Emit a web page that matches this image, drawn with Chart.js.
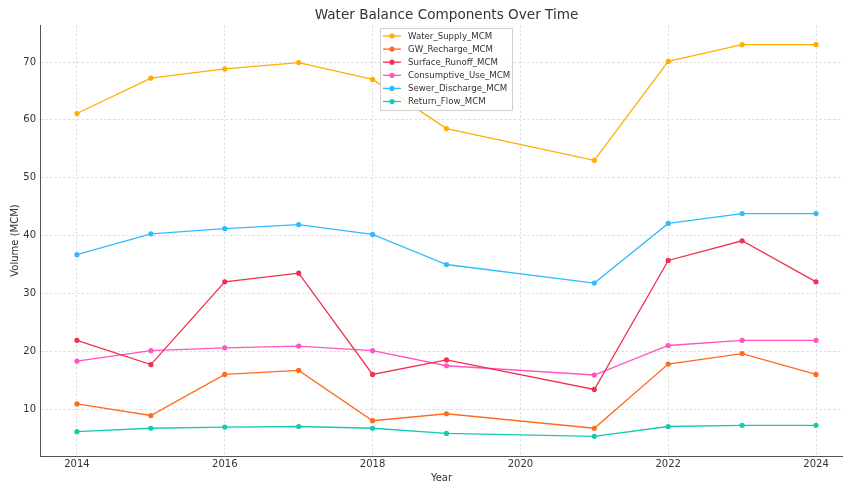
<!DOCTYPE html>
<html>
<head>
<meta charset="utf-8">
<title>Water Balance Components Over Time</title>
<script src="https://cdn.jsdelivr.net/npm/chart.js@4.4.0/dist/chart.umd.min.js"></script>
<style>
  html, body { margin: 0; padding: 0; background: #fff; }
  #wrap { width: 843px; height: 484px; position: relative; }
</style>
</head>
<body>
<div id="wrap"><canvas id="myChart" width="843" height="484"></canvas></div>
<script>
// years with data (2020 is missing in the record)
const years = [2014, 2015, 2016, 2017, 2018, 2019, 2021, 2022, 2023, 2024];

const waterSupply     = [61.1, 67.2, 68.8, 69.9, 67.0, 58.5, 53.0, 70.1, 73.0, 73.0];
const gwRecharge      = [10.9, 8.9, 16.0, 16.7, 8.0, 9.2, 6.7, 17.8, 19.6, 16.0];
const surfaceRunoff   = [21.9, 17.7, 32.0, 33.5, 16.0, 18.5, 13.4, 35.7, 39.1, 32.0];
const consumptiveUse  = [18.3, 20.1, 20.6, 20.9, 20.1, 17.5, 15.9, 21.0, 21.9, 21.9];
const sewerDischarge  = [36.7, 40.3, 41.2, 41.9, 40.2, 35.0, 31.8, 42.1, 43.8, 43.8];
const returnFlow      = [6.1, 6.7, 6.9, 7.0, 6.7, 5.8, 5.3, 7.0, 7.2, 7.2];

const seriesNames = ['Water_Supply_MCM', 'GW_Recharge_MCM', 'Surface_Runoff_MCM',
                     'Consumptive_Use_MCM', 'Sewer_Discharge_MCM', 'Return_Flow_MCM'];
const seriesValues = [waterSupply, gwRecharge, surfaceRunoff, consumptiveUse, sewerDischarge, returnFlow];
const seriesColors = ['#FFAE00', '#FF6A1E', '#F0304E', '#FF55C0', '#33BBFF', '#16C9B4'];

const FONT = "'DejaVu Sans', sans-serif";
const TEXT = '#333333';
const TITLE = 'Water Balance Components Over Time';

const datasets = seriesNames.map((name, i) => ({
  label: name,
  data: years.map((y, j) => ({ x: y, y: seriesValues[i][j] })),
  borderColor: seriesColors[i],
  backgroundColor: seriesColors[i],
  borderWidth: 1.3,
  pointRadius: 2.6,
  pointHoverRadius: 2.6,
  pointBorderWidth: 0,
  tension: 0,
}));

// title centred over the full 2013.5..2024.5 span (the plot runs past the right edge)
const centredTitle = {
  id: 'centredTitle',
  afterDraw(chart) {
    const ctx = chart.ctx;
    const cx = chart.scales.x.getPixelForValue(2019);
    ctx.save();
    ctx.font = '13.6px ' + FONT;
    ctx.fillStyle = TEXT;
    ctx.textAlign = 'center';
    ctx.textBaseline = 'middle';
    ctx.fillText(TITLE, cx, 15);
    ctx.restore();
  }
};

// legend drawn inside the plot, near the top center
const insideLegend = {
  id: 'insideLegend',
  afterDatasetsDraw(chart) {
    const ctx = chart.ctx;
    const x0 = 380.5, y0 = 28.5, w = 132, h = 82;
    ctx.save();
    ctx.fillStyle = 'rgba(255,255,255,0.85)';
    ctx.strokeStyle = '#d0d0d0';
    ctx.lineWidth = 1;
    ctx.beginPath();
    ctx.rect(x0, y0, w, h);
    ctx.fill();
    ctx.stroke();
    ctx.font = '8.6px ' + FONT;
    ctx.textBaseline = 'middle';
    seriesNames.forEach((name, i) => {
      const cy = 36 + i * 13.1;
      ctx.strokeStyle = seriesColors[i];
      ctx.lineWidth = 1.3;
      ctx.beginPath();
      ctx.moveTo(383, cy);
      ctx.lineTo(401, cy);
      ctx.stroke();
      ctx.fillStyle = seriesColors[i];
      ctx.beginPath();
      ctx.arc(392, cy, 2.6, 0, Math.PI * 2);
      ctx.fill();
      ctx.fillStyle = TEXT;
      ctx.fillText(name, 408, cy + 0.5);
    });
    ctx.restore();
  }
};

new Chart('myChart', {
  type: 'line',
  data: { datasets: datasets },
  options: {
    responsive: false,
    animation: false,
    layout: { autoPadding: false, padding: { top: 25, right: 0, bottom: 0, left: 0 } },
    plugins: {
      legend: { display: false },
      tooltip: { enabled: false },
      title: { display: false },
    },
    scales: {
      x: {
        type: 'linear',
        min: 2013.5,
        max: 2024.365,
        ticks: {
          stepSize: 2,
          includeBounds: false,
          color: TEXT,
          font: { family: FONT, size: 10 },
          padding: 2,
          maxRotation: 0,
          callback: (v) => String(v),
        },
        grid: { color: '#d6d6d6', lineWidth: 0.8, drawTicks: false, tickLength: 0 },
        border: { display: true, color: '#555555', width: 1, dash: [2.5, 2] },
        title: {
          display: true,
          text: 'Year',
          color: TEXT,
          font: { family: FONT, size: 10 },
          padding: { top: 0, bottom: 0 },
        },
        afterFit(scale) {
          scale.height = 28;
          scale.paddingLeft = 0;
          scale.paddingRight = 0;
        },
      },
      y: {
        min: 1.9,
        max: 76.4,
        ticks: {
          stepSize: 10,
          includeBounds: false,
          color: TEXT,
          font: { family: FONT, size: 10 },
          padding: 4,
        },
        grid: { color: '#d6d6d6', lineWidth: 0.8, drawTicks: false, tickLength: 0 },
        border: { display: true, color: '#555555', width: 1, dash: [2.5, 2] },
        title: {
          display: true,
          text: 'Volume (MCM)',
          color: TEXT,
          font: { family: FONT, size: 10 },
          padding: { top: 9, bottom: 2 },
        },
        afterFit(scale) {
          scale.width = 40;
          scale.paddingTop = 0;
          scale.paddingBottom = 0;
        },
      },
    },
  },
  plugins: [insideLegend, centredTitle],
});
</script>
</body>
</html>
